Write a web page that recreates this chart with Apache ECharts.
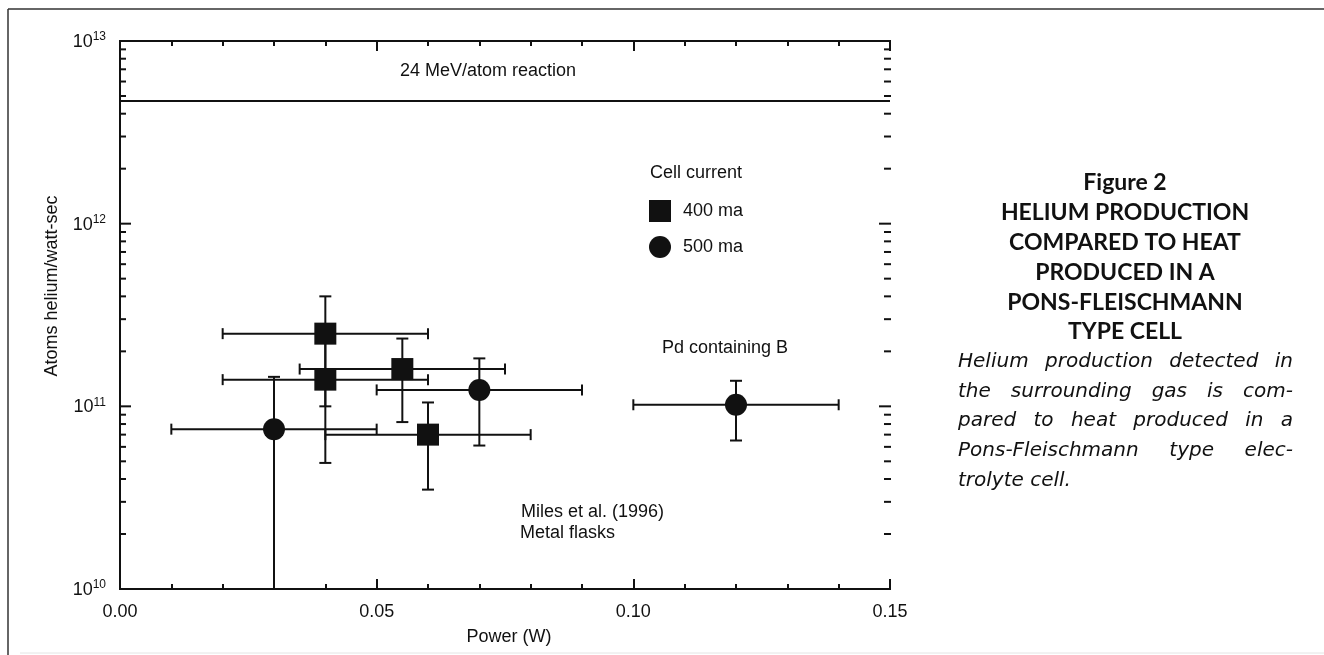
<!DOCTYPE html>
<html>
<head>
<meta charset="utf-8">
<script src="https://cdn.jsdelivr.net/npm/echarts@6.0.0/dist/echarts.min.js"></script>
<style>
html,body{margin:0;padding:0;background:#fff;}
#chart{width:1324px;height:655px;}
</style>
</head>
<body>
<div id="chart"></div>
<script>
// ---------------- data ----------------
// 400 ma (squares)
const sqX    = [0.04, 0.04, 0.055, 0.06];
const sqY    = [2.5e11, 1.4e11, 1.6e11, 7.0e10];
const sqXLo  = [0.02, 0.02, 0.035, 0.04];
const sqXHi  = [0.06, 0.06, 0.075, 0.08];
const sqYLo  = [1.0e11, 4.9e10, 8.2e10, 3.5e10];
const sqYHi  = [4.0e11, 2.5e11, 2.35e11, 1.05e11];
// 500 ma (circles)
const ciX    = [0.03, 0.07, 0.12];
const ciY    = [7.5e10, 1.23e11, 1.02e11];
const ciXLo  = [0.01, 0.05, 0.10];
const ciXHi  = [0.05, 0.09, 0.14];
const ciYLo  = [1.0e10, 6.1e10, 6.5e10];
const ciYHi  = [1.45e11, 1.83e11, 1.38e11];
// reference line: 24 MeV/atom reaction
const reactionLevel = 4.7e12;
// axis ticks
const xTickLabels = ['0.00', '0.05', '0.10', '0.15'];
const yDecades = [1e10, 1e11, 1e12, 1e13];
const yMinorMultipliers = [2, 3, 4, 5, 6, 7, 8, 9];
const seriesNames = ['400 ma', '500 ma'];

// ---------------- build ----------------
const FONT = 'Liberation Sans';
const HEADFONT = 'Lato';
const CAPFONT = 'DejaVu Sans';
const INK = '#111';

function rows(xs, ys, xl, xh, yl, yh) {
  return xs.map((x, i) => [x, ys[i], xl[i], xh[i], yl[i], yh[i]]);
}
const sqRows = rows(sqX, sqY, sqXLo, sqXHi, sqYLo, sqYHi);
const ciRows = rows(ciX, ciY, ciXLo, ciXHi, ciYLo, ciYHi);
const errRows = sqRows.concat(ciRows);

// y tick marks: [value, length]
const yTickRows = [];
yDecades.forEach((d, i) => {
  yTickRows.push([d, 11]);
  if (i < yDecades.length - 1) yMinorMultipliers.forEach(m => yTickRows.push([m * d, 6]));
});

function errItem(params, api) {
  const x = api.value(0), y = api.value(1);
  const xl = api.value(2), xh = api.value(3), yl = api.value(4), yh = api.value(5);
  const pL = api.coord([xl, y]), pR = api.coord([xh, y]);
  const pB = api.coord([x, yl]), pT = api.coord([x, yh]);
  const cw = 6, ch = 5.5;
  const st = {stroke: INK, lineWidth: 2};
  return {type: 'group', children: [
    {type: 'line', shape: {x1: pL[0], y1: pL[1], x2: pR[0], y2: pR[1]}, style: st},
    {type: 'line', shape: {x1: pL[0], y1: pL[1] - ch, x2: pL[0], y2: pL[1] + ch}, style: st},
    {type: 'line', shape: {x1: pR[0], y1: pR[1] - ch, x2: pR[0], y2: pR[1] + ch}, style: st},
    {type: 'line', shape: {x1: pB[0], y1: pB[1], x2: pT[0], y2: pT[1]}, style: st},
    {type: 'line', shape: {x1: pT[0] - cw, y1: pT[1], x2: pT[0] + cw, y2: pT[1]}, style: st},
    {type: 'line', shape: {x1: pB[0] - cw, y1: pB[1], x2: pB[0] + cw, y2: pB[1]}, style: st}
  ]};
}

function yTickItem(params, api) {
  const v = api.value(0), len = api.value(1);
  const pl = api.coord([0, v]);
  const pr = api.coord([0.15, v]);
  const st = {stroke: INK, lineWidth: 2};
  return {type: 'group', children: [
    {type: 'line', shape: {x1: pl[0], y1: pl[1], x2: pl[0] + len, y2: pl[1]}, style: st},
    {type: 'line', shape: {x1: pr[0] + 1, y1: pr[1], x2: pr[0] - len, y2: pr[1]}, style: st}
  ]};
}

// caption text
const measureCtx = document.createElement('canvas').getContext('2d');
const caption = [];
const boldLines = ['Figure 2', 'HELIUM PRODUCTION', 'COMPARED TO HEAT', 'PRODUCED IN A', 'PONS-FLEISCHMANN', 'TYPE CELL'];
const boldY = [183, 213, 243, 273, 303, 332];
boldLines.forEach((t, i) => caption.push({
  type: 'text', x: 1125, y: boldY[i],
  style: {text: t, fontFamily: HEADFONT, fontWeight: 'bold', fontSize: 23, fill: INK, align: 'center', verticalAlign: 'middle'}
}));
const italLines = [
  ['Helium production detected in', true],
  ['the surrounding gas is com-', true],
  ['pared to heat produced in a', true],
  ['Pons-Fleischmann type elec-', true],
  ['trolyte cell.', false]
];
const italY = [362, 392, 421, 451, 481];
const IL = 958, IR = 1293, ISIZE = 20;
italLines.forEach((ln, i) => {
  const words = ln[0].split(' ');
  measureCtx.font = 'italic ' + ISIZE + 'px "' + CAPFONT + '"';
  const ws = words.map(w => measureCtx.measureText(w).width);
  const total = ws.reduce((a, b) => a + b, 0);
  const gap = ln[1] ? (IR - IL - total) / (words.length - 1) : measureCtx.measureText(' ').width;
  let x = IL;
  words.forEach((w, k) => {
    caption.push({type: 'text', x: x, y: italY[i],
      style: {text: w, fontFamily: CAPFONT, fontStyle: 'italic', fontSize: ISIZE, fill: INK, align: 'left', verticalAlign: 'middle'}});
    x += ws[k] + gap;
  });
});

const txt = (t, x, y, extra) => ({type: 'text', x: x, y: y,
  style: Object.assign({text: t, fontFamily: FONT, fontSize: 18, fill: INK, align: 'left', verticalAlign: 'middle'}, extra || {})});

const chart = echarts.init(document.getElementById('chart'), null, {renderer: 'canvas'});
const axisLineStyle = {color: INK, width: 2};

chart.setOption({
  backgroundColor: '#fff',
  animation: false,
  grid: {left: 120, right: 434, top: 41, bottom: 66, containLabel: false},
  xAxis: [{
    type: 'value', min: 0, max: 0.15, interval: 0.05, position: 'bottom',
    axisLine: {lineStyle: axisLineStyle},
    axisTick: {inside: true, length: 10, lineStyle: {color: INK, width: 2}},
    minorTick: {show: true, splitNumber: 5, length: 5, lineStyle: {color: INK, width: 2}},
    splitLine: {show: false},
    axisLabel: {margin: 14, color: INK, fontFamily: FONT, fontSize: 18,
      formatter: v => xTickLabels[Math.round(v / 0.05)] || ''}
  }, {
    type: 'value', min: 0, max: 0.15, interval: 0.05, position: 'top',
    axisLine: {lineStyle: axisLineStyle},
    axisTick: {inside: true, length: 10, lineStyle: {color: INK, width: 2}},
    minorTick: {show: true, splitNumber: 5, length: 5, lineStyle: {color: INK, width: 2}},
    splitLine: {show: false}, axisLabel: {show: false}
  }],
  yAxis: [{
    type: 'log', logBase: 10, min: 1e10, max: 1e13, position: 'left',
    axisLine: {lineStyle: axisLineStyle},
    axisTick: {show: false},
    splitLine: {show: false},
    axisLabel: {margin: 14, color: INK,
      formatter: v => '{b|10}{s|' + Math.round(Math.log10(v)) + '}',
      rich: {
        b: {fontFamily: FONT, fontSize: 18, color: INK, lineHeight: 20, verticalAlign: 'bottom', padding: [6, 0, 0, 0]},
        s: {fontFamily: FONT, fontSize: 12, color: INK, lineHeight: 12, verticalAlign: 'top'}
      }}
  }, {
    type: 'log', logBase: 10, min: 1e10, max: 1e13, position: 'right',
    axisLine: {lineStyle: axisLineStyle},
    axisTick: {show: false},
    splitLine: {show: false}, axisLabel: {show: false}
  }],
  legend: {
    orient: 'vertical', left: 649, top: 200, padding: 0, itemWidth: 22, itemHeight: 22, itemGap: 14,
    selectedMode: false,
    textStyle: {fontFamily: FONT, fontSize: 18, color: INK, padding: [0, 0, 0, 7]},
    data: [{name: seriesNames[0], icon: 'rect'}, {name: seriesNames[1], icon: 'circle'}]
  },
  series: [
    {
      type: 'custom', name: 'yticks', renderItem: yTickItem, data: yTickRows,
      encode: {y: 0}, silent: true, z: 3, clip: false
    },
    {
      type: 'custom', name: 'errors', renderItem: errItem, data: errRows,
      encode: {x: 0, y: 1}, silent: true, z: 4, clip: true
    },
    {
      type: 'scatter', name: seriesNames[0], symbol: 'rect', symbolSize: 22,
      itemStyle: {color: INK, opacity: 1}, data: sqRows.map(r => [r[0], r[1]]), z: 5,
      markLine: {
        silent: true, symbol: ['none', 'none'], label: {show: false},
        lineStyle: {color: INK, width: 2, type: 'solid'},
        data: [{yAxis: reactionLevel}]
      }
    },
    {
      type: 'scatter', name: seriesNames[1], symbol: 'circle', symbolSize: 22,
      itemStyle: {color: INK, opacity: 1}, data: ciRows.map(r => [r[0], r[1]]), z: 5
    }
  ],
  graphic: [
    {type: 'line', shape: {x1: 8, y1: 9, x2: 1324, y2: 9}, style: {stroke: '#333', lineWidth: 1.5}},
    {type: 'line', shape: {x1: 8, y1: 9, x2: 8, y2: 655}, style: {stroke: '#333', lineWidth: 1.5}},
    {type: 'line', shape: {x1: 20, y1: 653, x2: 1324, y2: 653}, style: {stroke: '#e4e4e4', lineWidth: 1}},
    txt('24 MeV/atom reaction', 488, 71, {align: 'center'}),
    txt('Cell current', 650, 173),
    txt('Pd containing B', 725, 348, {align: 'center'}),
    txt('Miles et al. (1996)', 521, 512),
    txt('Metal flasks', 520, 533),
    txt('Power (W)', 509, 637, {align: 'center'}),
    {type: 'text', x: 52, y: 286, rotation: Math.PI / 2,
      style: {text: 'Atoms helium/watt-sec', fontFamily: FONT, fontSize: 18, fill: INK, align: 'center', verticalAlign: 'middle'}}
  ].concat(caption)
});
</script>
</body>
</html>
